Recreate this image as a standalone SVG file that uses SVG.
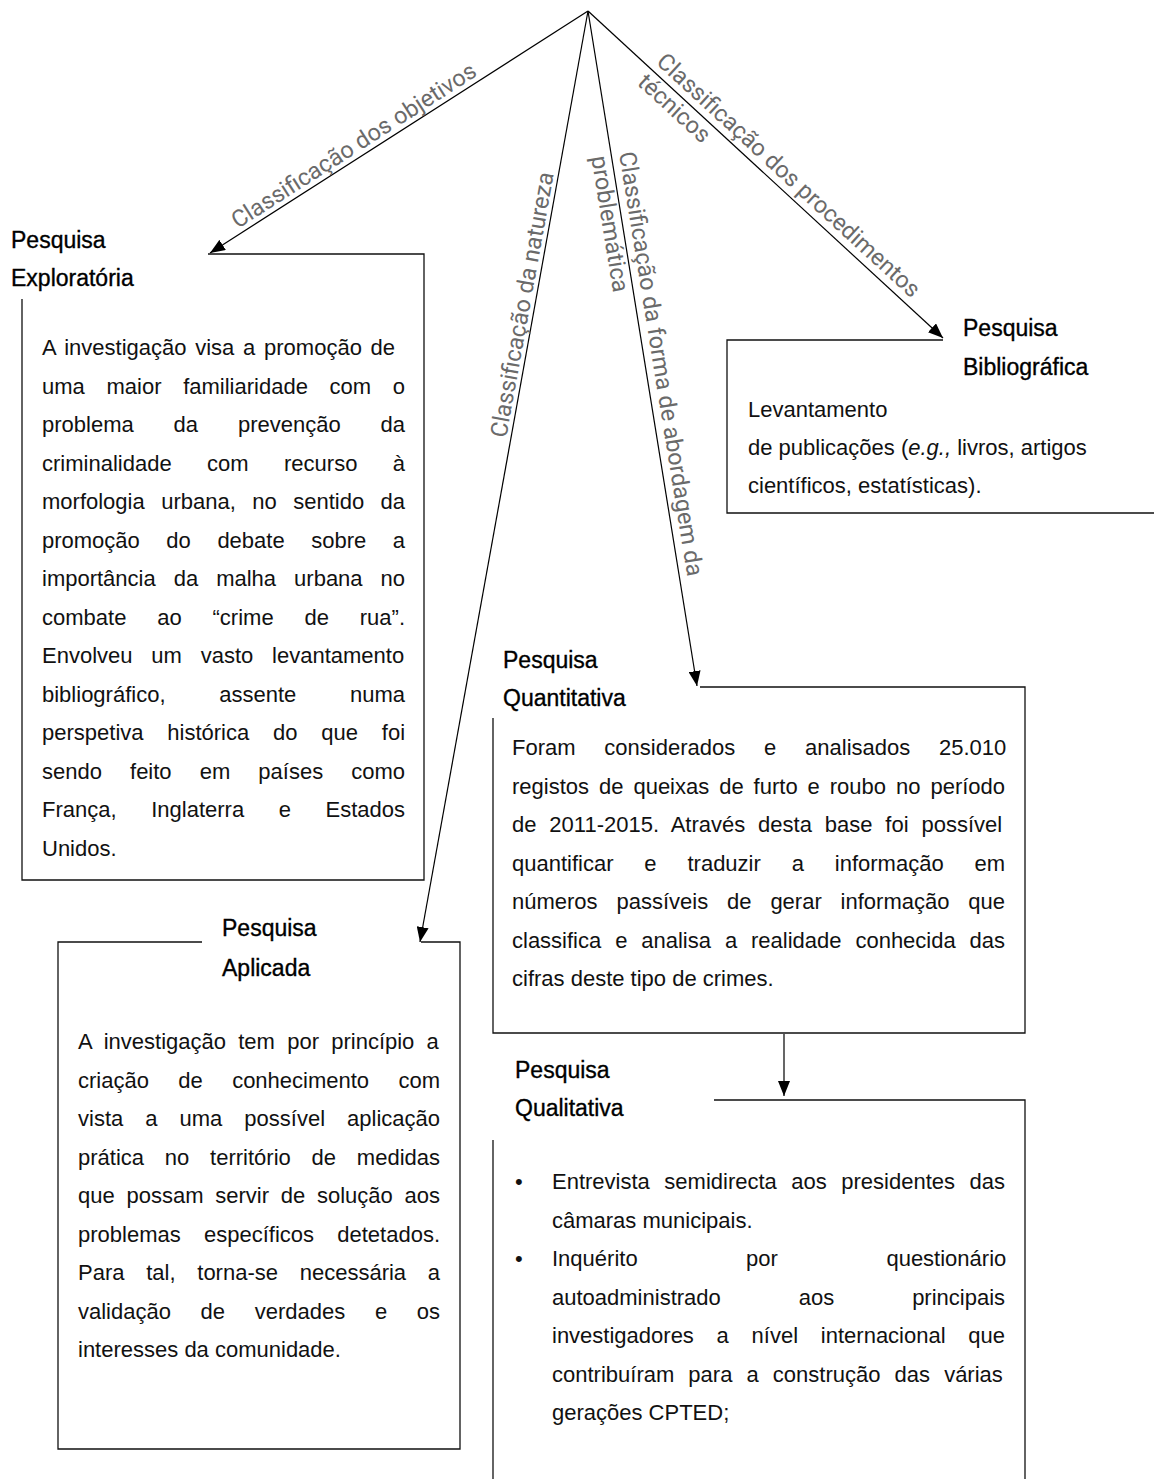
<svg xmlns="http://www.w3.org/2000/svg" width="1154" height="1479" viewBox="0 0 1154 1479">
  <style>
    .body { font-family: "Liberation Sans", Arial, sans-serif; font-size: 22px; fill: #111; }
    .title { font-family: "Liberation Sans", Arial, sans-serif; font-size: 23px; fill: #000; stroke: #000; stroke-width: 0.35; }
    .lbl { font-family: Roboto, "Open Sans", sans-serif; font-weight: 400; font-size: 23.5px; fill: #6a6a6a; }
    .edge { fill: none; stroke: #000; stroke-width: 1.2; }
    .frame { fill: none; stroke: #111; stroke-width: 1.3; }
  </style>
  <defs>
    <marker id="arrow" viewBox="0 0 15 12" refX="15" refY="6" markerWidth="15" markerHeight="12" markerUnits="userSpaceOnUse" orient="auto">
      <path d="M0,0 L15,6 L0,12 Z" fill="#000"/>
    </marker>
  </defs>

  <rect width="1154" height="1479" fill="#fff"/>

  <!-- connectors from the common root -->
  <g id="connectors">
    <path class="edge" d="M588,11 L210,253" marker-end="url(#arrow)"/>
    <path class="edge" d="M588,11 L420,942" marker-end="url(#arrow)"/>
    <path class="edge" d="M588,11 L697,686" marker-end="url(#arrow)"/>
    <path class="edge" d="M588,11 L943,338" marker-end="url(#arrow)"/>
    <path class="edge" d="M784,1034 L784,1096" stroke-width="2" marker-end="url(#arrow)"/>

    <text class="lbl" text-anchor="middle" transform="translate(358,152) rotate(-32.63)">Classificação dos objetivos</text>
    <text class="lbl" text-anchor="middle" transform="translate(530,306) rotate(-79.78)">Classificação da natureza</text>
    <g transform="translate(619,152.9) rotate(80.83)">
      <text class="lbl" x="0" y="0">Classificação da forma de abordagem da</text>
      <text class="lbl" x="0" y="28">problemática</text>
    </g>
    <g transform="translate(655.3,63.3) rotate(42.56)">
      <text class="lbl" x="0" y="0">Classificação dos procedimentos</text>
      <text class="lbl" x="0" y="28">técnicos</text>
    </g>
  </g>

  <!-- Pesquisa Exploratória -->
  <g id="exploratoria">
    <path class="frame" d="M208,254 H424 V880 H22 V299"/>
    <text class="title" x="11" y="248">Pesquisa</text>
    <text class="title" x="11" y="286">Exploratória</text>
    <text class="body" x="42" y="355" word-spacing="2.62">A investigação visa a promoção de</text>
    <text class="body" x="42" y="393.5" word-spacing="15.57">uma maior familiaridade com o</text>
    <text class="body" x="42" y="432" word-spacing="33.77">problema da prevenção da</text>
    <text class="body" x="42" y="470.5" word-spacing="29.31">criminalidade com recurso à</text>
    <text class="body" x="42" y="509" word-spacing="10.35">morfologia urbana, no sentido da</text>
    <text class="body" x="42" y="547.5" word-spacing="20.43">promoção do debate sobre a</text>
    <text class="body" x="42" y="586" word-spacing="11.88">importância da malha urbana no</text>
    <text class="body" x="42" y="624.5" word-spacing="24.73">combate ao “crime de rua”.</text>
    <text class="body" x="42" y="663" word-spacing="12.69">Envolveu um vasto levantamento</text>
    <text class="body" x="42" y="701.5" word-spacing="47.61">bibliográfico, assente numa</text>
    <text class="body" x="42" y="740" word-spacing="17.69">perspetiva histórica do que foi</text>
    <text class="body" x="42" y="778.5" word-spacing="21.97">sendo feito em países como</text>
    <text class="body" x="42" y="817" word-spacing="28.48">França, Inglaterra e Estados</text>
    <text class="body" x="42" y="855.5">Unidos.</text>
  </g>

  <!-- Pesquisa Bibliográfica -->
  <g id="bibliografica">
    <path class="frame" d="M943,340 H727 V513 H1154"/>
    <text class="title" x="963" y="336">Pesquisa</text>
    <text class="title" x="963" y="375">Bibliográfica</text>
    <text class="body" x="748" y="417">Levantamento</text>
    <text class="body" x="748" y="455">de publicações (<tspan font-style="italic">e.g.,</tspan> livros, artigos</text>
    <text class="body" x="748" y="493">científicos, estatísticas).</text>
  </g>

  <!-- Pesquisa Quantitativa -->
  <g id="quantitativa">
    <path class="frame" d="M700,687 H1025 V1033 H493 V718"/>
    <text class="title" x="503" y="668">Pesquisa</text>
    <text class="title" x="503" y="706">Quantitativa</text>
    <text class="body" x="512" y="755" word-spacing="22.68">Foram considerados e analisados 25.010</text>
    <text class="body" x="512" y="793.5" word-spacing="3.84">registos de queixas de furto e roubo no período</text>
    <text class="body" x="512" y="832" word-spacing="6.75">de 2011-2015. Através desta base foi possível</text>
    <text class="body" x="512" y="870.5" word-spacing="24.75">quantificar e traduzir a informação em</text>
    <text class="body" x="512" y="909" word-spacing="12.76">números passíveis de gerar informação que</text>
    <text class="body" x="512" y="947.5" word-spacing="7.78">classifica e analisa a realidade conhecida das</text>
    <text class="body" x="512" y="986">cifras deste tipo de crimes.</text>
  </g>

  <!-- Pesquisa Aplicada -->
  <g id="aplicada">
    <path class="frame" d="M421,942 H460 V1449 H58 V942 H202"/>
    <text class="title" x="222" y="936">Pesquisa</text>
    <text class="title" x="222" y="976">Aplicada</text>
    <text class="body" x="78" y="1049" word-spacing="6.13">A investigação tem por princípio a</text>
    <text class="body" x="78" y="1087.5" word-spacing="23.26">criação de conhecimento com</text>
    <text class="body" x="78" y="1126" word-spacing="15.92">vista a uma possível aplicação</text>
    <text class="body" x="78" y="1164.5" word-spacing="14.69">prática no território de medidas</text>
    <text class="body" x="78" y="1203" word-spacing="5.64">que possam servir de solução aos</text>
    <text class="body" x="78" y="1241.5" word-spacing="17.14">problemas específicos detetados.</text>
    <text class="body" x="78" y="1280" word-spacing="15.61">Para tal, torna-se necessária a</text>
    <text class="body" x="78" y="1318.5" word-spacing="23.55">validação de verdades e os</text>
    <text class="body" x="78" y="1357">interesses da comunidade.</text>
  </g>

  <!-- Pesquisa Qualitativa -->
  <g id="qualitativa">
    <path class="frame" d="M714,1100 H1025 V1479"/>
    <path class="frame" d="M493,1140 V1479"/>
    <text class="title" x="515" y="1078">Pesquisa</text>
    <text class="title" x="515" y="1116">Qualitativa</text>
    <text class="body" x="515" y="1189">•</text>
    <text class="body" x="552" y="1189" word-spacing="8.4">Entrevista semidirecta aos presidentes das</text>
    <text class="body" x="552" y="1227.5">câmaras municipais.</text>
    <text class="body" x="515" y="1266">•</text>
    <text class="body" x="552" y="1266" word-spacing="102.39">Inquérito por questionário</text>
    <text class="body" x="552" y="1304.5" word-spacing="71.83">autoadministrado aos principais</text>
    <text class="body" x="552" y="1343" word-spacing="16.65">investigadores a nível internacional que</text>
    <text class="body" x="552" y="1381.5" word-spacing="7.99">contribuíram para a construção das várias</text>
    <text class="body" x="552" y="1420">gerações CPTED;</text>
  </g>
</svg>
